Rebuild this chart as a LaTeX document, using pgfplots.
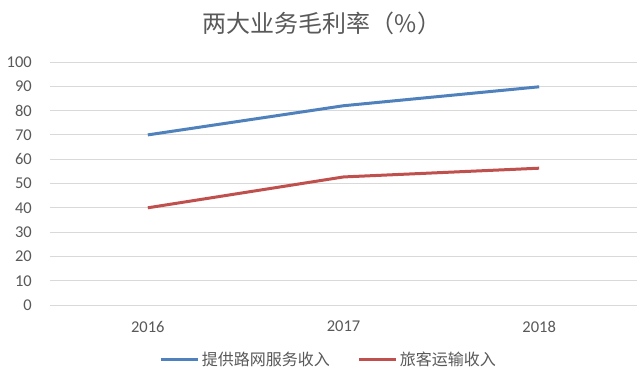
\documentclass[border=0pt]{standalone}
\usepackage{fontspec}
\setmainfont{Carlito}
\newfontfamily\cjk{Noto Sans CJK SC}
\usepackage{pgfplots}
\pgfplotsset{compat=1.18}
\definecolor{sblue}{HTML}{4F81BD}
\definecolor{sred}{HTML}{C0504D}
\definecolor{gridc}{HTML}{D9D9D9}
\definecolor{txt}{HTML}{595959}
\begin{document}
\begin{tikzpicture}[x=1pt,y=1pt]
\path[use as bounding box, fill=white] (0,0) rectangle (640,384);
\node[font=\cjk\fontsize{24}{28}\selectfont, text=txt] at (322,361) {两大业务毛利率（\%）};
\begin{axis}[at={(50pt,79pt)}, anchor=south west, scale only axis,
  width=587pt, height=243pt,
  xmin=-0.5, xmax=2.5, ymin=0, ymax=100,
  ytick={0,10,...,100}, xtick={0,1,2}, xticklabels={2016,2017,2018},
  axis line style={draw=none}, ymajorgrids,
  grid style={gridc, line width=0.9pt},
  major tick style={draw=none},
  ticklabel style={font=\fontsize{16.5}{19}\selectfont, text=txt},
  /pgf/number format/assume math mode=true,
  yticklabel style={inner sep=0pt, xshift=-18pt},
  xticklabel style={inner sep=0pt, yshift=-16pt},
  legend style={at={(axis description cs:0.475,-0.226)}, anchor=center, draw=none, fill=none,
    legend columns=2, font=\cjk\fontsize{16}{18}\selectfont, text=txt,
    /tikz/every even column/.append style={column sep=26pt}},
  legend image code/.code={\draw[#1, line width=3pt] (0pt,0pt) -- (37pt,0pt);},
]
\addplot[sblue, line width=3pt] coordinates {(0,70) (1,82) (2,89.8)};
\addlegendentry{提供路网服务收入}
\addplot[sred, line width=3pt] coordinates {(0,40) (1,52.7) (2,56.3)};
\addlegendentry{旅客运输收入}
\end{axis}
\end{tikzpicture}
\end{document}
